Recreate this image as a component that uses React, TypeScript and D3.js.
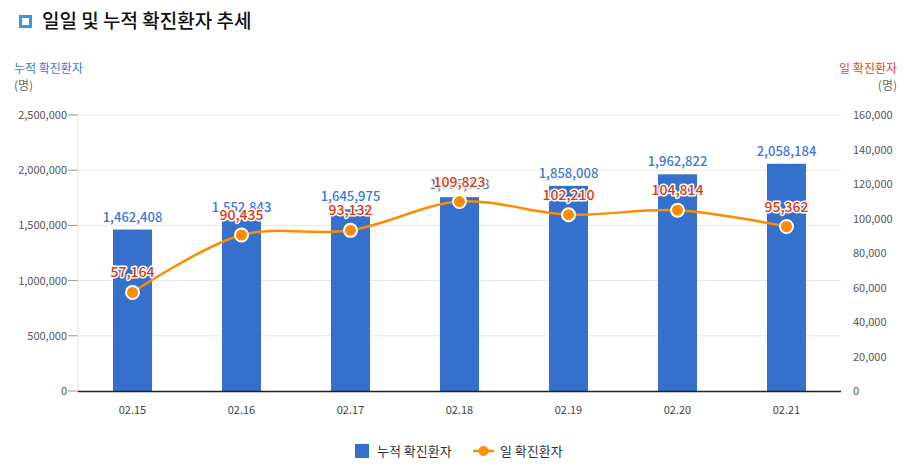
import React from "react";
import * as d3 from "d3";

const categories = ["02.15", "02.16", "02.17", "02.18", "02.19", "02.20", "02.21"];
const cumulative = [1462408, 1552843, 1645975, 1755798, 1858008, 1962822, 2058184];
const daily = [57164, 90435, 93132, 109823, 102210, 104814, 95362];
const leftTicks = [0, 500000, 1000000, 1500000, 2000000, 2500000];
const rightTicks = [0, 20000, 40000, 60000, 80000, 100000, 120000, 140000, 160000];

const W = 909, H = 470;
const left = 78, right = 841, top = 115, bottom = 391;
const FONT = "'Noto Sans CJK KR', 'Noto Sans', sans-serif";
const BAR = "#3470cc";
const LINE = "#ff8c00";
const BLUE_TXT = "#3b78d8";
const RED_TXT = "#dc3912";

export default function App() {
  const x = d3.scaleBand<string>().domain(categories).range([left, right]).paddingInner(0.642).paddingOuter(0.321);
  const yL = d3.scaleLinear().domain([0, 2500000]).range([bottom, top]);
  const yR = d3.scaleLinear().domain([0, 160000]).range([bottom, top]);
  const fmt = d3.format(",");
  const cx = (c: string) => (x(c) as number) + x.bandwidth() / 2;
  const lineGen = d3
    .line<number>()
    .x((_, i) => cx(categories[i]))
    .y((d) => yR(d))
    .curve(d3.curveCatmullRom.alpha(0.5));

  const halo = { paintOrder: "stroke" as const, stroke: "#fff", strokeWidth: 3, strokeLinejoin: "round" as const };

  return (
    <svg width={W} height={H} style={{ position: "absolute", left: 0, top: 0, fontFamily: FONT }}>
      <rect x={0} y={0} width={W} height={H} fill="#fff" />
      {/* title */}
      <rect x={20.5} y={16.5} width={10} height={10} fill="#fff" stroke="#3a9ad6" strokeWidth={3} />
      <text x={42} y={28} fontSize={19} fontWeight={500} fill="#111">일일 및 누적 확진환자 추세</text>

      {/* axis titles */}
      <text x={14} y={73} fontSize={12} fill={BLUE_TXT}>누적 확진환자</text>
      <text x={14} y={90} fontSize={12} fill="#666">(명)</text>
      <text x={897} y={73} fontSize={12} fill="#e0452a" textAnchor="end">일 확진환자</text>
      <text x={897} y={90} fontSize={12} fill="#666" textAnchor="end">(명)</text>

      {/* grid */}
      {leftTicks.map((t) => (
        <g key={t}>
          {t > 0 && <line x1={left} x2={right} y1={yL(t)} y2={yL(t)} stroke="#e5e5e5" />}
          <line x1={left - 10} x2={left} y1={yL(t)} y2={yL(t)} stroke="#999" />
          <text x={67} y={yL(t) + 4} fontSize={11} fill="#555" textAnchor="end">{fmt(t)}</text>
        </g>
      ))}
      <line x1={left} x2={left} y1={top} y2={bottom} stroke="#e5e5e5" />
      {rightTicks.map((t) => (
        <text key={t} x={853} y={yR(t) + 4} fontSize={11} fill="#555">{fmt(t)}</text>
      ))}

      {/* bars */}
      {categories.map((c, i) => (
        <rect key={c} x={x(c)} y={yL(cumulative[i])} width={x.bandwidth()} height={bottom - yL(cumulative[i])} fill={BAR} />
      ))}
      <line x1={left} x2={right} y1={bottom + 0.5} y2={bottom + 0.5} stroke="#222" strokeWidth={1.5} />

      {/* x labels */}
      {categories.map((c) => (
        <text key={c} x={cx(c)} y={414} fontSize={11} fill="#444" textAnchor="middle">{c}</text>
      ))}

      {/* bar labels */}
      {categories.map((c, i) => (
        <text key={c} x={cx(c)} y={yL(cumulative[i]) - 8} fontSize={13} fontWeight={500} fill={BLUE_TXT} textAnchor="middle" {...halo}>
          {fmt(cumulative[i])}
        </text>
      ))}

      {/* line */}
      <path d={lineGen(daily) || ""} fill="none" stroke={LINE} strokeWidth={2.5} />
      {daily.map((d, i) => (
        <circle key={i} cx={cx(categories[i])} cy={yR(d)} r={6.5} fill={LINE} stroke="#fff" strokeWidth={2} />
      ))}
      {daily.map((d, i) => (
        <text key={i} x={cx(categories[i])} y={yR(d) - 15} fontSize={14} fontWeight={500} fill={RED_TXT} textAnchor="middle" {...halo}>
          {fmt(d)}
        </text>
      ))}

      {/* legend */}
      <rect x={355} y={444} width={14} height={14} fill={BAR} />
      <text x={377} y={456} fontSize={13} fill="#333">누적 확진환자</text>
      <line x1={473} x2={494} y1={451} y2={451} stroke={LINE} strokeWidth={2.5} />
      <circle cx={483.5} cy={451} r={5} fill={LINE} />
      <text x={500} y={456} fontSize={13} fill="#333">일 확진환자</text>
    </svg>
  );
}
